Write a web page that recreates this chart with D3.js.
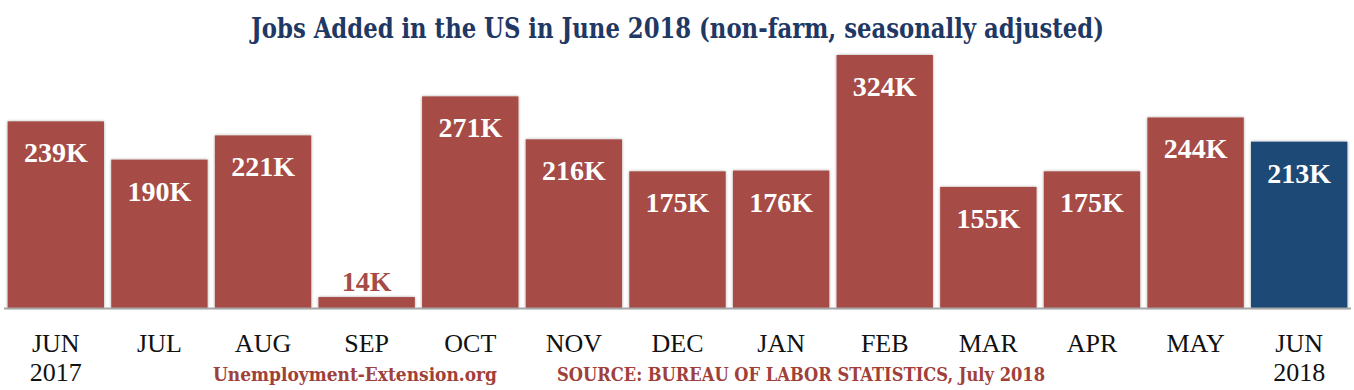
<!DOCTYPE html>
<html>
<head>
<meta charset="utf-8">
<script src="https://cdn.jsdelivr.net/npm/d3@7"></script>
<style>
  body { margin: 0; background: #fff; }
  svg { display: block; }
</style>
</head>
<body>
<svg id="chart"></svg>
<script>
// data (thousands of jobs)
const months = ["JUN", "JUL", "AUG", "SEP", "OCT", "NOV", "DEC", "JAN", "FEB", "MAR", "APR", "MAY", "JUN"];
const years = ["2017", "", "", "", "", "", "", "", "", "", "", "", "2018"];
const jobs = [239, 190, 221, 14, 271, 216, 175, 176, 324, 155, 175, 244, 213];
const valueLabels = ["239K", "190K", "221K", "14K", "271K", "216K", "175K", "176K", "324K", "155K", "175K", "244K", "213K"];

const width = 1354, height = 390;
const red = "#a64b45", navy = "#1f4a74";

const svg = d3.select("#chart").attr("width", width).attr("height", height);

// drop shadow like the original bars
const defs = svg.append("defs");
const f = defs.append("filter").attr("id", "shadow")
  .attr("x", "-10%").attr("y", "-10%").attr("width", "120%").attr("height", "120%");
f.append("feDropShadow").attr("dx", 0).attr("dy", 0).attr("stdDeviation", 1.5)
  .attr("flood-color", "#000").attr("flood-opacity", 0.35);

const x = d3.scaleBand()
  .domain(d3.range(months.length))
  .range([4, 1351])
  .paddingInner(0.07)
  .paddingOuter(0.035);

const y = d3.scaleLinear().domain([0, 324]).range([308, 55]);

// title (condensed to the original width)
svg.append("text")
  .attr("x", 251).attr("y", 38)
  .attr("font-family", "'DejaVu Serif Condensed', 'DejaVu Serif', serif")
  .attr("font-weight", "bold")
  .attr("font-size", 27)
  .attr("textLength", 853)
  .attr("lengthAdjust", "spacingAndGlyphs")
  .attr("fill", "#1f3864")
  .text("Jobs Added in the US in June 2018 (non-farm, seasonally adjusted)");

// bars
svg.selectAll(".bar")
  .data(jobs)
  .enter()
  .append("rect")
  .attr("class", "bar")
  .attr("x", (d, i) => x(i))
  .attr("y", (d) => y(d))
  .attr("width", x.bandwidth())
  .attr("height", (d) => y(0) - y(d))
  .attr("fill", (d, i) => (i === jobs.length - 1 ? navy : red))
  .attr("filter", "url(#shadow)");

// baseline
svg.append("line")
  .attr("x1", 4).attr("x2", 1351)
  .attr("y1", y(0) + 0.5).attr("y2", y(0) + 0.5)
  .attr("stroke", "#a6a6a6")
  .attr("stroke-width", 2);

// value labels: inside the bar, or above it when the bar is too short
svg.selectAll(".val")
  .data(jobs)
  .enter()
  .append("text")
  .attr("class", "val")
  .attr("x", (d, i) => x(i) + x.bandwidth() / 2)
  .attr("y", (d) => (y(0) - y(d) > 50 ? y(d) + 41 : y(d) - 6))
  .attr("text-anchor", "middle")
  .attr("font-family", "'Liberation Serif', serif")
  .attr("font-weight", "bold")
  .attr("font-size", 28)
  .attr("fill", (d) => (y(0) - y(d) > 50 ? "#fff" : red))
  .text((d, i) => valueLabels[i]);

// month labels
const lab = svg.selectAll(".cat")
  .data(months)
  .enter()
  .append("text")
  .attr("class", "cat")
  .attr("x", (d, i) => x(i) + x.bandwidth() / 2)
  .attr("text-anchor", "middle")
  .attr("font-family", "'Liberation Serif', serif")
  .attr("font-size", 26)
  .attr("fill", "#111");
lab.append("tspan").attr("y", 352).text((d) => d);
lab.append("tspan")
  .attr("x", (d, i) => x(i) + x.bandwidth() / 2)
  .attr("y", 381)
  .text((d, i) => years[i]);

// footer
const foot = svg.append("g")
  .attr("font-family", "'DejaVu Serif Condensed', 'DejaVu Serif', serif")
  .attr("font-weight", "bold")
  .attr("font-size", 18)
  .attr("lengthAdjust", "spacingAndGlyphs")
  .attr("fill", "#a0403a");
foot.append("text").attr("x", 213).attr("y", 381)
  .attr("textLength", 284).attr("lengthAdjust", "spacingAndGlyphs")
  .text("Unemployment-Extension.org");
foot.append("text").attr("x", 557).attr("y", 381)
  .attr("textLength", 488).attr("lengthAdjust", "spacingAndGlyphs")
  .text("SOURCE: BUREAU OF LABOR STATISTICS, July 2018");
</script>
</body>
</html>
